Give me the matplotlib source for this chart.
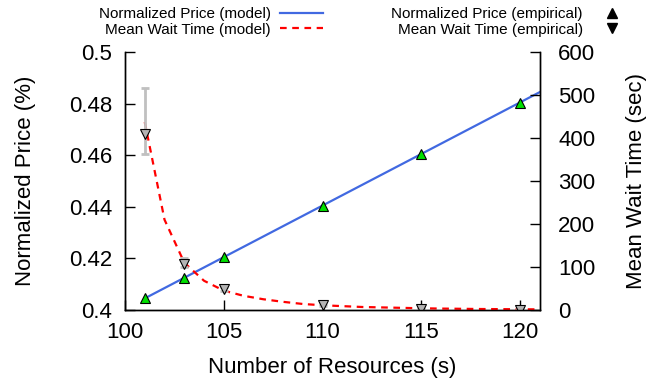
import matplotlib
matplotlib.use('Agg')
import matplotlib.pyplot as plt
from matplotlib.lines import Line2D

plt.rcParams['font.family'] = ['Liberation Sans', 'DejaVu Sans']

# empirical measurements
s_emp = [101, 103, 105, 110, 115, 120]
price_emp = [0.4045, 0.4124, 0.4206, 0.4404, 0.4606, 0.4804]
wait_emp = [409, 107, 49, 12, 3, 1]
wait_err_lo = [46, 8, 4, 2, 1, 1]
wait_err_hi = [107, 14, 4, 2, 1, 1]

# model curves
s_model = [101, 102, 103, 104, 105, 106, 107, 108, 109, 110, 111,
           112, 113, 114, 115, 116, 117, 118, 119, 120, 121]
price_model = [0.4045, 0.4085, 0.4125, 0.4165, 0.4205, 0.4245, 0.4285,
               0.4325, 0.4365, 0.4405, 0.4445, 0.4485, 0.4525, 0.4565,
               0.4605, 0.4645, 0.4685, 0.4725, 0.4765, 0.4805, 0.4845]
wait_model = [437, 210, 110, 68, 45, 33, 25, 19, 14, 11, 9,
              7, 6, 5, 4, 3.3, 2.8, 2.3, 2.0, 1.7, 1.5]

xticks = [100, 105, 110, 115, 120]
yticks = [0.4, 0.42, 0.44, 0.46, 0.48, 0.5]
y2ticks = [0, 100, 200, 300, 400, 500, 600]

blue = '#4169e1'
red = '#ff0000'
green = '#00e000'
grey = '#b4b4b4'

fig = plt.figure(figsize=(6.57, 3.81), dpi=100)
ax = fig.add_axes([125/657, 71/381, 415/657, 258/381])
ax2 = ax.twinx()

ax.plot(s_model, price_model, color=blue, lw=1.6)
ax.plot(s_emp, price_emp, ls='none', marker='^', ms=7.5,
        mfc=green, mec='black', mew=0.8)

ax2.plot(s_model, wait_model, color=red, lw=1.6, dashes=(3, 2.5))
ax2.errorbar(s_emp, wait_emp, yerr=[wait_err_lo, wait_err_hi], fmt='none',
             ecolor='#c0c0c0', elinewidth=2, capsize=3, capthick=2)
ax2.plot(s_emp, wait_emp, ls='none', marker='v', ms=7.5,
         mfc=grey, mec='black', mew=0.8)

ax.set_xlim(100, 121)
ax.set_ylim(0.4, 0.5)
ax2.set_ylim(0, 600)
ax.set_xticks(xticks)
ax.set_yticks(yticks)
ax.set_yticklabels(['0.4', '0.42', '0.44', '0.46', '0.48', '0.5'])
ax2.set_yticks(y2ticks)

for a in (ax, ax2):
    a.spines['top'].set_visible(False)
    for sp in a.spines.values():
        sp.set_linewidth(1.0)
ax.tick_params(axis='both', direction='in', length=7, width=1, labelsize=16)
ax.tick_params(axis='x', pad=9)
ax.tick_params(axis='y', pad=9, right=False)
ax2.tick_params(axis='y', direction='in', length=7, width=1, labelsize=16, pad=13)

ax.set_xlabel('Number of Resources (s)', fontsize=16, labelpad=10)
ax.set_ylabel('Normalized Price (%)', fontsize=16, labelpad=24)
ax2.set_ylabel('Mean Wait Time (sec)', fontsize=16, labelpad=22)

h1 = [Line2D([], [], color=blue, lw=1.6),
      Line2D([], [], color=red, lw=1.6, dashes=(3, 2.5))]
leg1 = fig.legend(h1, ['Normalized Price (model)', 'Mean Wait Time (model)'],
                  loc='upper right', bbox_to_anchor=(323/657, 374/381),
                  frameon=False, markerfirst=False, fontsize=11,
                  borderpad=0, borderaxespad=0, handlelength=2.8,
                  handletextpad=0.6, labelspacing=0.12)

h2 = [Line2D([], [], ls='none', marker='^', ms=7, color='black'),
      Line2D([], [], ls='none', marker='v', ms=7, color='black')]
leg2 = fig.legend(h2, ['Normalized Price (empirical)', 'Mean Wait Time (empirical)'],
                  loc='upper right', bbox_to_anchor=(619.5/657, 374/381),
                  frameon=False, markerfirst=False, fontsize=11,
                  borderpad=0, borderaxespad=0, handlelength=1.0,
                  handletextpad=1.4, labelspacing=0.12)

fig.savefig('out.png', dpi=100)
